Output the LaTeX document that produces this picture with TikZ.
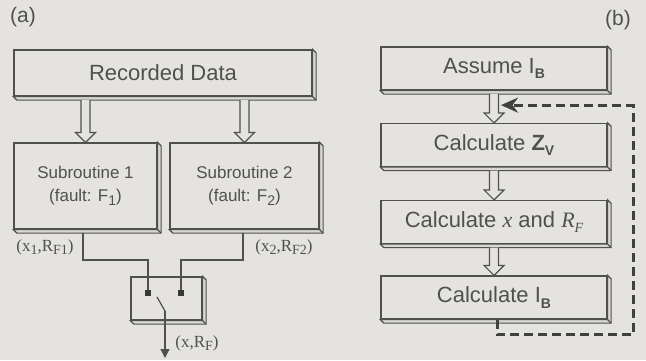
\documentclass[tikz,border=0pt]{standalone}
\usepackage{fontspec}
\setmainfont{Liberation Sans}
\newfontfamily\timesrm{Liberation Serif}
\usetikzlibrary{arrows.meta,positioning,calc}
\definecolor{paper}{HTML}{E4E3E0}
\definecolor{ink}{HTML}{505050}
\definecolor{rim}{HTML}{D8D7D4}
\newcommand{\lo}[1]{\raisebox{-0.45ex}{\scriptsize #1}}
\newcommand{\tmath}[1]{{\timesrm\itshape #1}}
% extruded right and bottom faces of a slab
\newcommand{\slabrim}[1]{%
  \draw[wire, fill=rim] (#1.north east) -- ++(3.5,3.5) -- ($(#1.south east)+(3.5,3.5)$)
    -- ($(#1.south west)+(3.5,3.5)$) -- (#1.south west) -- (#1.south east) -- cycle;
  \draw[wire] (#1.south east) -- ++(3.5,3.5);}
% open block arrow pointing down
\newcommand{\hollow}[2]{%
  \draw[wire, fill=paper] ($(#1)+(-4.5,3.5)$) -- ($(#2)+(-4.5,-10)$) -- ($(#2)+(-10,-10)$)
    -- (#2) -- ($(#2)+(10,-10)$) -- ($(#2)+(4.5,-10)$) -- ($(#1)+(4.5,3.5)$);}
\tikzset{
  wire/.style={draw=ink, line width=0.6pt},
  slab/.style={draw=ink, fill=paper, line width=0.6pt, text=ink, inner sep=0pt, align=center},
  bigslab/.style={slab, minimum width=113pt, minimum height=21.5pt, font=\fontsize{11}{13}\selectfont},
  subslab/.style={slab, minimum height=43pt, font=\fontsize{8.5}{11.5}\selectfont},
  pin/.style={fill=ink!70!black, minimum size=2.6pt, inner sep=0pt},
  outarr/.style={wire, -{Triangle[length=4.5pt, width=4.5pt]}},
  backarr/.style={draw=ink!80!black, line width=1.5pt, dash pattern=on 4.5pt off 2.5pt,
                  -{Stealth[length=8.5pt, width=7.5pt]}},
  tag/.style={text=ink, font=\timesrm\fontsize{8.5}{10}\selectfont},
  panel/.style={text=ink, font=\fontsize{10.5}{12}\selectfont}}
\begin{document}
\begin{tikzpicture}[x=0.5pt, y=-0.5pt]
  \fill[paper] (0,0) rectangle (646,360);
  \useasboundingbox (0,0) rectangle (646,360);
  % (a)
  \node[panel] (pa) at (23,17) {(a)};
  \node[slab, minimum width=149pt, minimum height=23pt, font=\fontsize{11}{13}\selectfont] (rd) at (163,73) {Recorded Data};
  \node[subslab, minimum width=71.5pt] (sub1) at (85.5,186) {Subroutine 1\\(fault: F\lo{1})};
  \node[subslab, minimum width=74.5pt] (sub2) at (244.5,186) {Subroutine 2\\(fault: F\lo{2})};
  \node[slab, minimum width=35.5pt, minimum height=21.5pt] (sw) at (166.5,298.5) {};
  \slabrim{rd}
  \slabrim{sub1}
  \slabrim{sub2}
  \slabrim{sw}
  \hollow{rd.south -| sub1.north}{sub1.north}
  \hollow{rd.south -| sub2.north}{sub2.north}
  \node[pin] (t1) at (148,293) {};
  \node[pin] (t2) at (181,293) {};
  \coordinate (pivot) at (165,311);
  \coordinate (out) at (165,358);
  \draw[wire] ($(sub1.south)+(-2.5,3.5)$) |- ($(t1)+(0,-33)$) -- (t1);
  \draw[wire] ($(sub2.south)+(-1.5,3.5)$) |- ($(t2)+(0,-33)$) -- (t2);
  \draw[wire] (pivot) -- ++(-8,-14);
  \draw[outarr] (pivot) -- (out);
  \node[tag] (l1) at (45,247) {(x\lo{1},R\lo{F1})};
  \node[tag] (l2) at (284,247) {(x\lo{2},R\lo{F2})};
  \node[tag] (l3) at (197,343) {(x,R\lo{F})};
  % (b)
  \node[panel] (pb) at (618,20) {(b)};
  \node[bigslab] (assume) at (494,68.5) {Assume I\lo{\bfseries B}};
  \node[bigslab] (zv) at (494,145) {Calculate \textbf{Z\lo{V}}};
  \node[bigslab] (xrf) at (494,222) {Calculate \tmath{x} and \tmath{R}\lo{\tmath{F}}};
  \node[bigslab] (ib) at (494,297.5) {Calculate I\lo{\bfseries B}};
  \slabrim{assume}
  \slabrim{zv}
  \slabrim{xrf}
  \slabrim{ib}
  \hollow{assume.south}{zv.north}
  \hollow{zv.south}{xrf.north}
  \hollow{xrf.south}{ib.north}
  \coordinate (entry) at ($(assume.south)!0.45!(zv.north)+(7,0)$);
  \draw[backarr] ([xshift=1.5pt]ib.south) |- ($(ib.south)+(139,15)$) |- (entry);
\end{tikzpicture}
\end{document}
